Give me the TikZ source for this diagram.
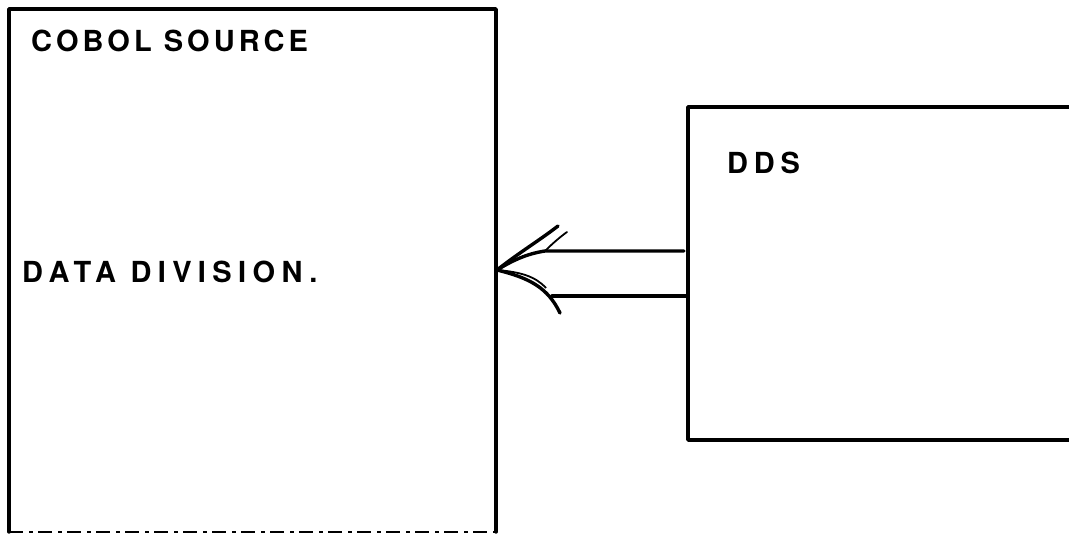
\documentclass[tikz,border=0pt]{standalone}
\usepackage{fontspec}
\setmainfont{TeX Gyre Heros}
\newfontfamily\cobolfont[LetterSpace=14]{TeX Gyre Heros Bold}
\newfontfamily\datafont[LetterSpace=22]{TeX Gyre Heros Bold}
\newfontfamily\ddsfont[LetterSpace=20]{TeX Gyre Heros Bold}
\begin{document}
\begin{tikzpicture}[x=1pt,y=-1pt,
  boxline/.style={line width=3.4pt, line cap=round, line join=round},
  dashedge/.style={line width=2pt, dash pattern=on 14pt off 6pt on 4pt off 5pt},
  arrline/.style={line width=3.4pt, line cap=round, line join=round},
  lab/.style={anchor=base west, inner sep=0pt}]
\useasboundingbox (0,0) rectangle (1069,534);
% COBOL source box
\coordinate (ctl) at (9,9);
\coordinate (ctr) at (496,9);
\coordinate (cbl) at (9,532);
\coordinate (cbr) at (496,532);
\draw[boxline] (cbl) -- (ctl) -- (ctr) -- (cbr);
\draw[dashedge] (cbl) -- (cbr);
\node[lab, font=\cobolfont\fontsize{29}{34}\selectfont] (cobol) at (31,52) {COBOL SOURCE};
\node[lab, font=\datafont\fontsize{29}{34}\selectfont] (datadiv) at (22,283) {DATA DIVISION.};
% DDS box
\coordinate (dtr) at (1069,107);
\coordinate (dtl) at (688,107);
\coordinate (dbl) at (688,440);
\coordinate (dbr) at (1069,440);
\draw[boxline] (dtr) -- (dtl) -- (dbl) -- (dbr);
\node[lab, font=\ddsfont\fontsize{29}{34}\selectfont] (dds) at (727,174) {DDS};
% arrow
\coordinate (tip) at (497,270);
\coordinate (u1) at (684,251);
\coordinate (u2) at (545,251);
\coordinate (l1) at (688,296);
\coordinate (l2) at (552,296);
\coordinate (ub) at (558,226);
\coordinate (ub2) at (567,232);
\coordinate (lb) at (560,313);
\draw[arrline] (u1) -- (u2) .. controls (525,254) and (510,262) .. (tip);
\draw[arrline] (tip) .. controls (520,252) and (540,240) .. (ub);
\draw[line width=1.8pt, line cap=round] (u2) .. controls (552,244) and (560,237) .. (ub2);
\draw[arrline] (l1) -- (l2);
\draw[arrline] (tip) .. controls (530,278) and (548,288) .. (lb);
\draw[line width=1.8pt] (tip) .. controls (520,272) and (535,276) .. (546,288);
\end{tikzpicture}
\end{document}
